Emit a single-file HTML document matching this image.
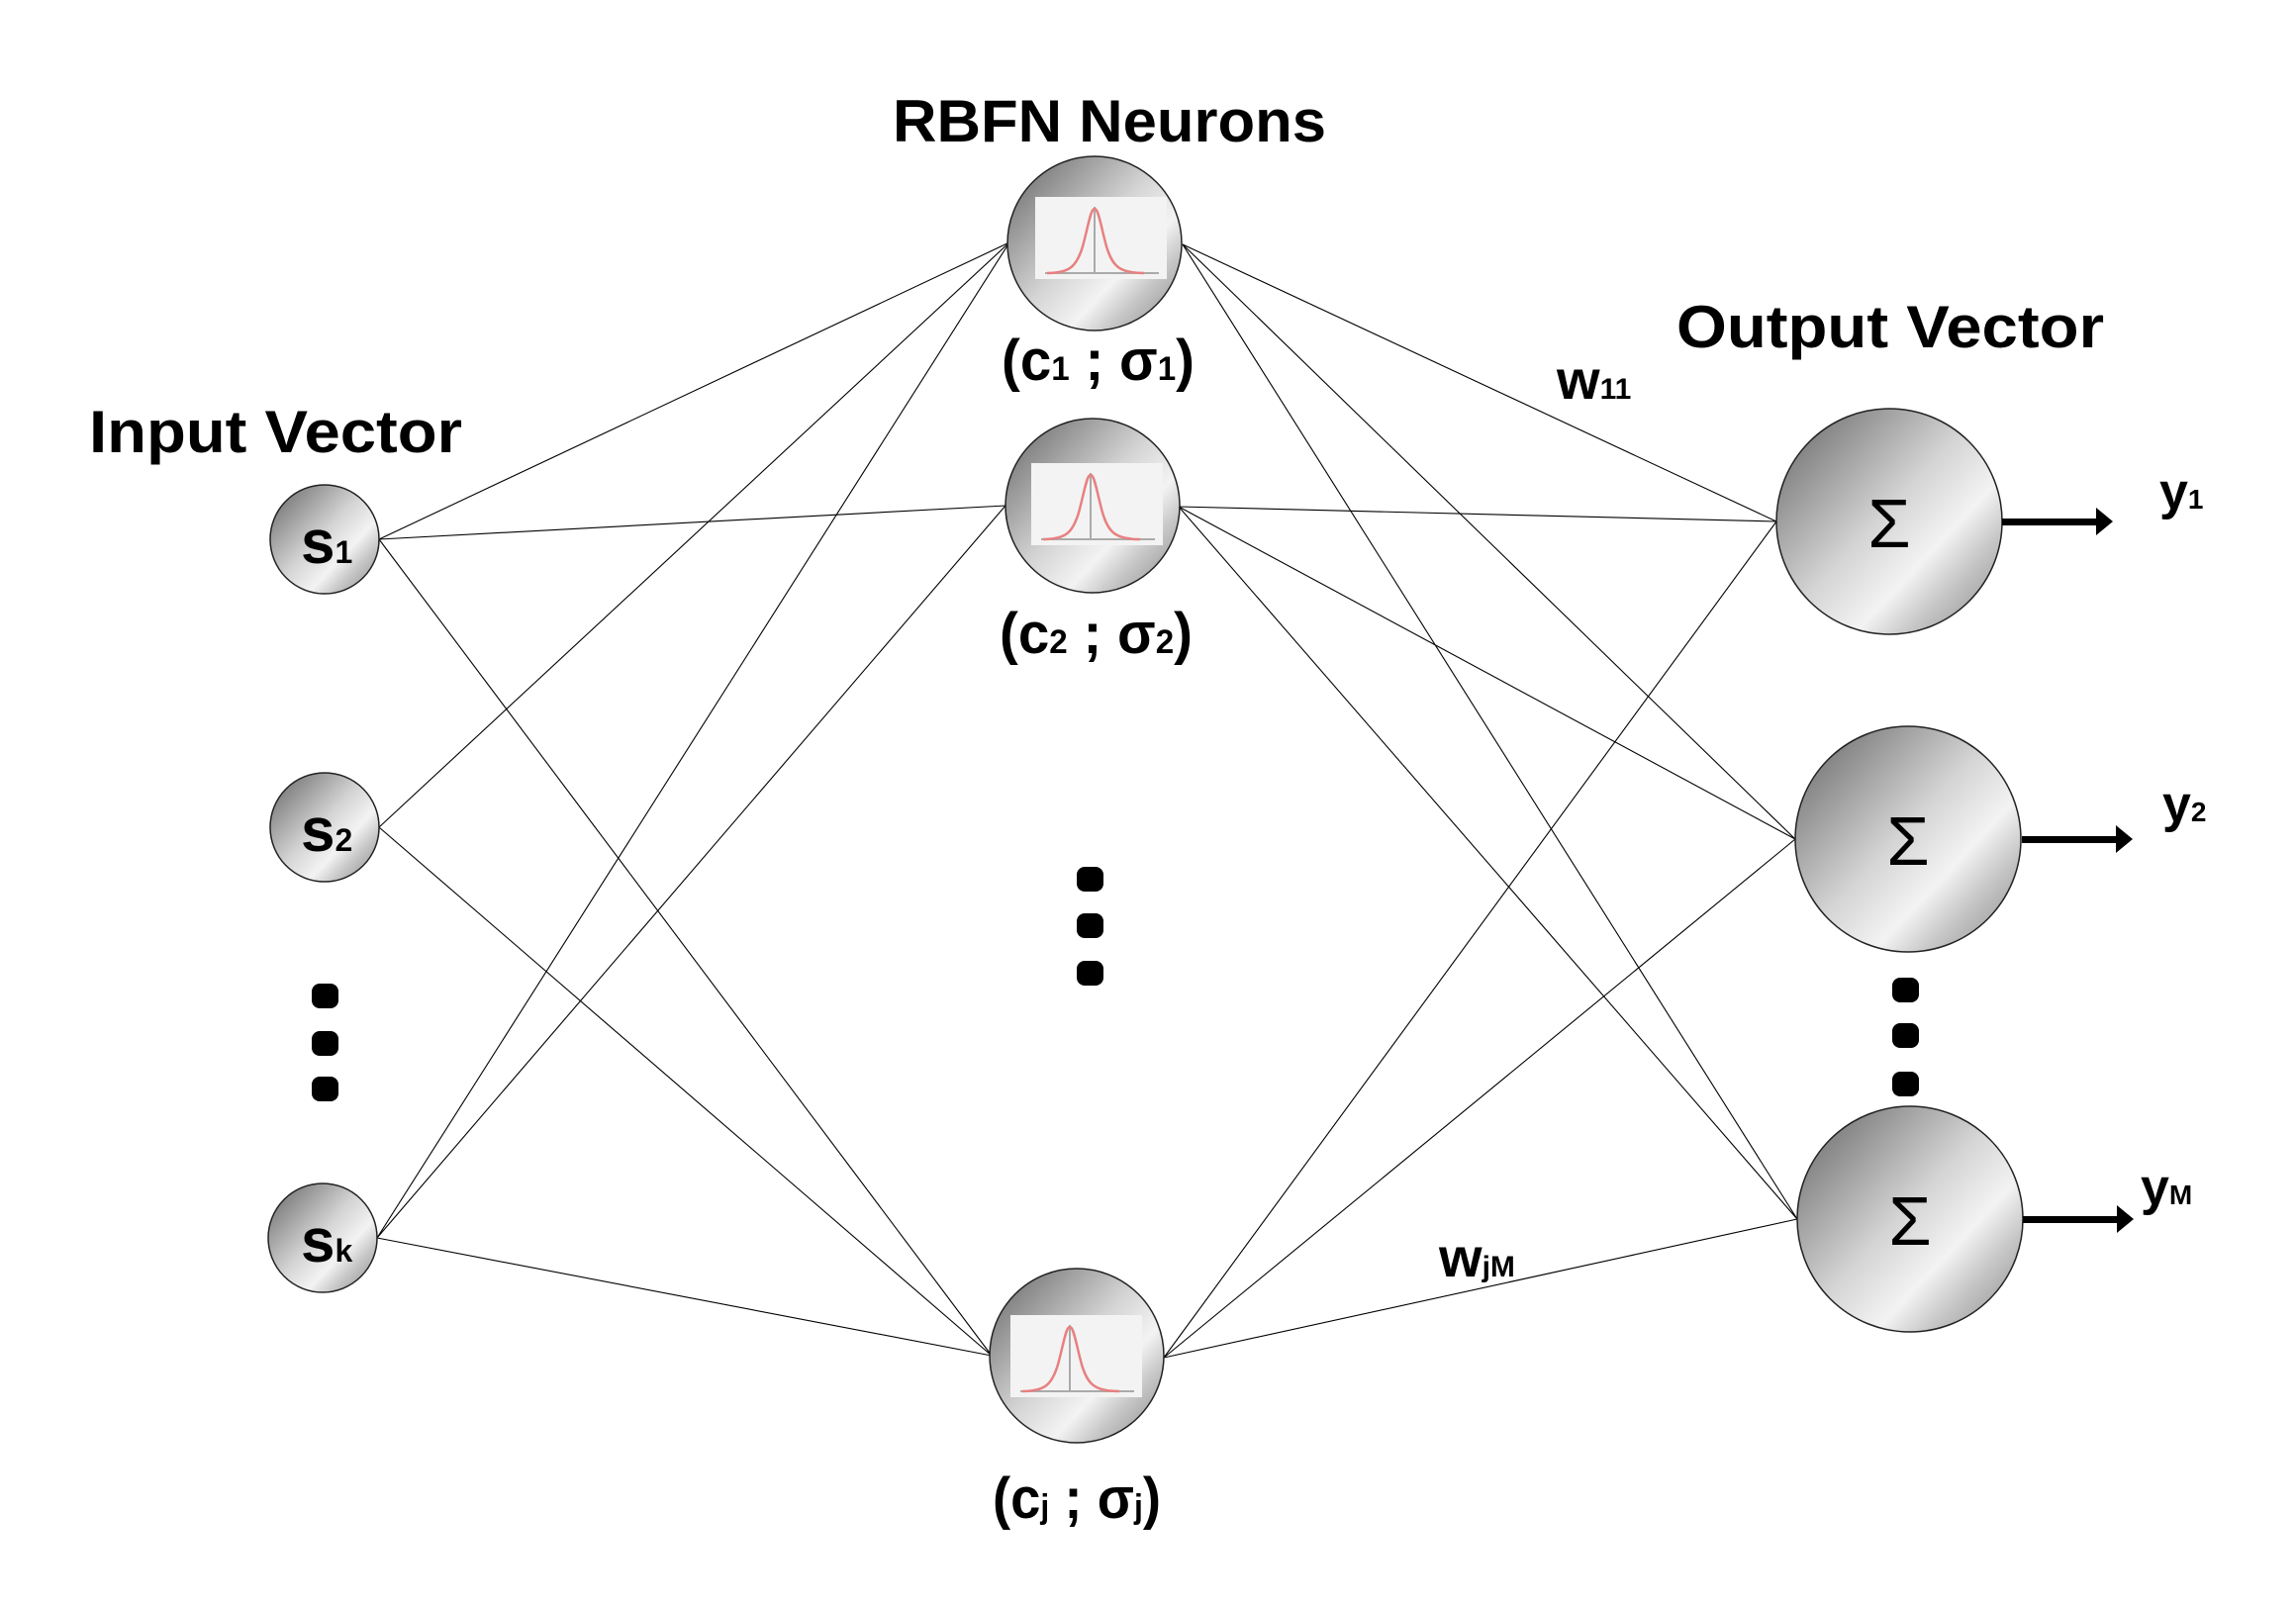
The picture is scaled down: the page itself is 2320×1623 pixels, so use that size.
<!DOCTYPE html>
<html><head><meta charset="utf-8"><style>
html,body{margin:0;padding:0;background:#fff}
svg{display:block}
text{font-family:"Liberation Sans",sans-serif;font-weight:bold;fill:#000}
text.n{font-weight:normal}
</style></head><body>
<svg width="2320" height="1623" viewBox="0 0 2320 1623" xmlns="http://www.w3.org/2000/svg">
<defs>
<linearGradient id="g" x1="0.1" y1="0.1" x2="0.95" y2="0.9">
<stop offset="0" stop-color="#7a7a7a"/>
<stop offset="0.45" stop-color="#d4d4d4"/>
<stop offset="0.68" stop-color="#f3f3f3"/>
<stop offset="0.82" stop-color="#c8c8c8"/>
<stop offset="1" stop-color="#9a9a9a"/>
</linearGradient>
<g id="gauss">
<rect x="0" y="0" width="133" height="83" fill="#f3f3f3"/>
<line x1="10" y1="77" x2="125" y2="77" stroke="#aaa" stroke-width="2"/>
<line x1="60" y1="10" x2="60" y2="77" stroke="#aaa" stroke-width="2"/>
<path d="M12 77 C35 77 42 70 48 50 C54 28 56 12 60 12 C64 12 66 28 72 50 C78 70 85 77 110 77" fill="none" stroke="#e88080" stroke-width="2.5"/>
</g>
</defs>
<g stroke="#000" stroke-width="1.1" fill="none">
<line x1="383" y1="545" x2="1020" y2="245"/>
<line x1="383" y1="545" x2="1016" y2="511"/>
<line x1="383" y1="545" x2="1002" y2="1370"/>
<line x1="383" y1="836" x2="1020" y2="245"/>
<line x1="383" y1="836" x2="1002" y2="1370"/>
<line x1="381" y1="1251" x2="1020" y2="245"/>
<line x1="381" y1="1251" x2="1016" y2="511"/>
<line x1="381" y1="1251" x2="1002" y2="1370"/>
<line x1="1195" y1="247" x2="1795" y2="527"/>
<line x1="1195" y1="247" x2="1814" y2="848"/>
<line x1="1195" y1="247" x2="1816" y2="1232"/>
<line x1="1191" y1="512" x2="1795" y2="527"/>
<line x1="1191" y1="512" x2="1814" y2="848"/>
<line x1="1191" y1="512" x2="1816" y2="1232"/>
<line x1="1176" y1="1372" x2="1795" y2="527"/>
<line x1="1176" y1="1372" x2="1814" y2="848"/>
<line x1="1176" y1="1372" x2="1816" y2="1232"/>
</g>
<g stroke="#222" stroke-width="1.5" fill="url(#g)">
<circle cx="328" cy="545" r="55"/>
<circle cx="328" cy="836" r="55"/>
<circle cx="326" cy="1251" r="55"/>
<circle cx="1106" cy="246" r="88"/>
<circle cx="1104" cy="511" r="88"/>
<circle cx="1088" cy="1370" r="88"/>
<circle cx="1909" cy="527" r="114"/>
<circle cx="1928" cy="848" r="114"/>
<circle cx="1930" cy="1232" r="114"/>
</g>
<use href="#gauss" x="1046" y="199"/>
<use href="#gauss" x="1042" y="468"/>
<use href="#gauss" x="1021" y="1329"/>
<g fill="#000">
<rect x="315" y="994" width="27" height="25" rx="8"/>
<rect x="315" y="1042" width="27" height="25" rx="8"/>
<rect x="315" y="1088" width="27" height="25" rx="8"/>
<rect x="1088" y="876" width="27" height="25" rx="8"/>
<rect x="1088" y="923" width="27" height="25" rx="8"/>
<rect x="1088" y="971" width="27" height="25" rx="8"/>
<rect x="1912" y="988" width="27" height="25" rx="8"/>
<rect x="1912" y="1034" width="27" height="25" rx="8"/>
<rect x="1912" y="1083" width="27" height="25" rx="8"/>
</g>
<g fill="#000">
<rect x="2023" y="524" width="100" height="7"/><polygon points="2118,513 2135,527 2118,541"/>
<rect x="2043" y="845" width="100" height="7"/><polygon points="2138,834 2155,848 2138,862"/>
<rect x="2044" y="1229" width="100" height="7"/><polygon points="2139,1218 2156,1232 2139,1246"/>
</g>
<text x="90" y="457" font-size="60" textLength="377" lengthAdjust="spacingAndGlyphs">Input Vector</text>
<text x="902" y="143" font-size="60" textLength="438" lengthAdjust="spacingAndGlyphs">RBFN Neurons</text>
<text x="1694" y="351" font-size="60" textLength="432" lengthAdjust="spacingAndGlyphs">Output Vector</text>
<text x="304" y="569" font-size="62">s<tspan font-size="32">1</tspan></text>
<text x="304" y="860" font-size="62">s<tspan font-size="32">2</tspan></text>
<text x="304" y="1275" font-size="62">s<tspan font-size="32">k</tspan></text>
<text x="1012" y="384" font-size="58" textLength="195" lengthAdjust="spacingAndGlyphs">(c<tspan font-size="34">1</tspan> ; σ<tspan font-size="34">1</tspan>)</text>
<text x="1010" y="660" font-size="58" textLength="195" lengthAdjust="spacingAndGlyphs">(c<tspan font-size="34">2</tspan> ; σ<tspan font-size="34">2</tspan>)</text>
<text x="1003" y="1534" font-size="58" textLength="170" lengthAdjust="spacingAndGlyphs">(c<tspan font-size="34">j</tspan> ; σ<tspan font-size="34">j</tspan>)</text>
<text x="1573" y="403" font-size="56">w<tspan font-size="30">11</tspan></text>
<text x="1454" y="1290" font-size="56">w<tspan font-size="30">jM</tspan></text>
<text x="2182" y="514" font-size="52">y<tspan font-size="28">1</tspan></text>
<text x="2185" y="830" font-size="52">y<tspan font-size="28">2</tspan></text>
<text x="2163" y="1217" font-size="52">y<tspan font-size="28">M</tspan></text>
<text class="n" x="1909" y="553" font-size="70" text-anchor="middle">Σ</text>
<text class="n" x="1928" y="874" font-size="70" text-anchor="middle">Σ</text>
<text class="n" x="1930" y="1258" font-size="70" text-anchor="middle">Σ</text>
</svg>
</body></html>
